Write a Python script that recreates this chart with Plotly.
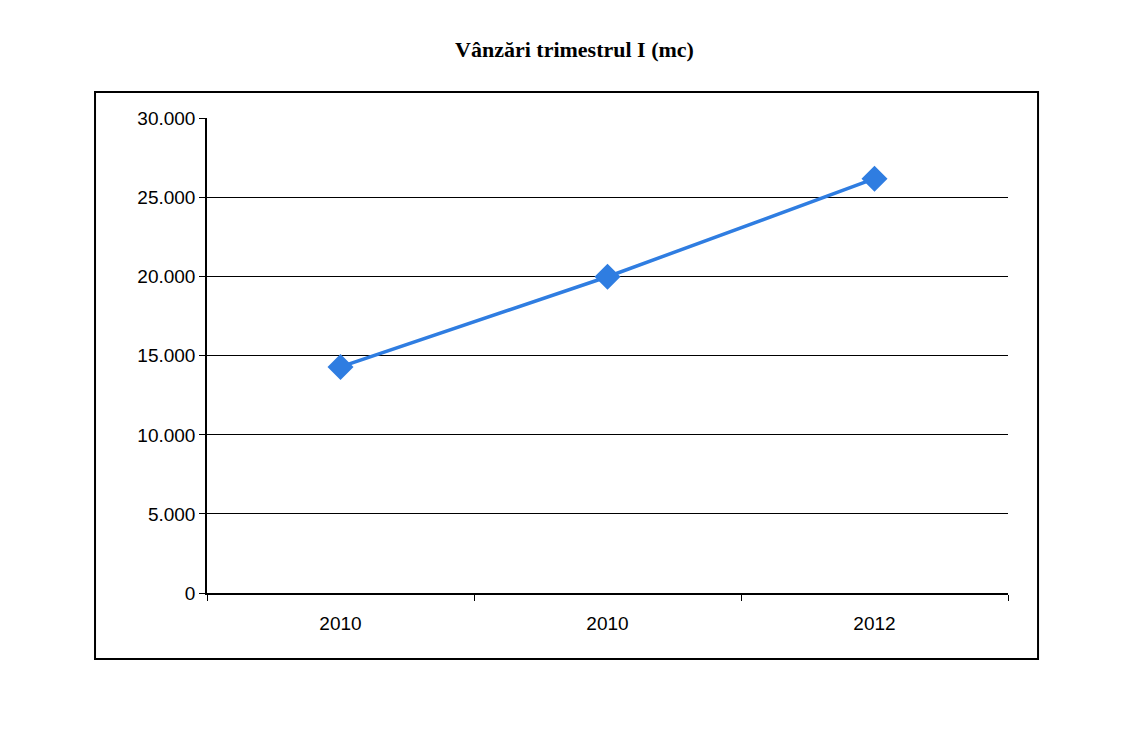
import plotly.graph_objects as go

years = ["2010", "2010", "2012"]
sales = [14300, 20000, 26200]
positions = [0, 1, 2]

fig = go.Figure()
fig.add_trace(go.Scatter(
    x=positions, y=sales, mode="lines+markers",
    line=dict(color="#2f7de1", width=3.5),
    marker=dict(symbol="diamond", size=20, color="#2f7de1"),
    showlegend=False,
))

fig.update_layout(
    width=1133, height=750,
    paper_bgcolor="white", plot_bgcolor="white",
    margin=dict(l=199, r=133, t=110, b=165),
    title=dict(text="<b>Vânzări trimestrul I (mc)</b>", x=0.5, y=0.955, xanchor="center",
               font=dict(family="Liberation Serif", size=22, color="black")),
    font=dict(family="Liberation Sans", size=19, color="black"),
    shapes=[dict(type="rect", xref="paper", yref="paper",
                 x0=-0.1398, x1=1.0375, y0=-0.1389, y1=1.0545,
                 line=dict(color="black", width=2))],
)
fig.update_xaxes(
    range=[-0.5, 2.5], tickvals=positions, ticktext=years, ticks="",
    showgrid=False, showline=True, linecolor="black", linewidth=1.5,
    minor=dict(tickvals=[-0.5, 0.5, 1.5, 2.5], ticks="outside", ticklen=6,
               tickcolor="black", showgrid=False),
    ticklabelstandoff=12, zeroline=False,
)
fig.update_yaxes(
    range=[0, 30040], tickvals=[0, 5000, 10000, 15000, 20000, 25000, 30000],
    tickformat=",d",
    showgrid=True, gridcolor="black", gridwidth=1,
    showline=True, linecolor="black", linewidth=1.5,
    ticks="outside", ticklen=6, tickcolor="black", zeroline=False,
)
fig.update_layout(separators=",.")

fig.write_html("out.html")
